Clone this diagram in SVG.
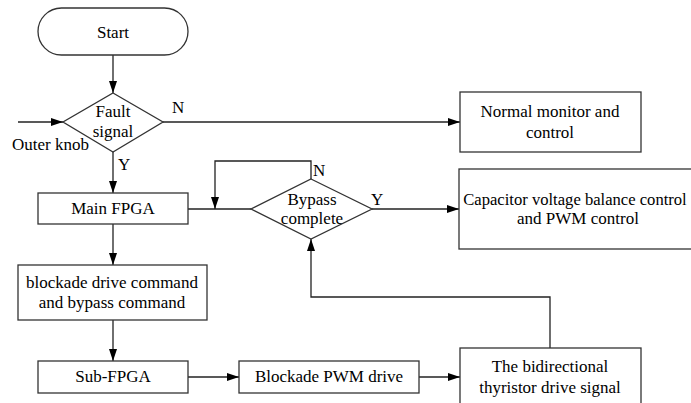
<svg xmlns="http://www.w3.org/2000/svg" width="691" height="403" viewBox="0 0 691 403">
<defs>
<marker id="ah" markerWidth="12" markerHeight="8" refX="12" refY="4" orient="auto" markerUnits="userSpaceOnUse">
<path d="M0,0 L12,4 L0,8 Z" fill="#000"/>
</marker>
<style>
.s{fill:#fff;stroke:#333;stroke-width:1.3}
.t{font-family:"Liberation Serif","Times New Roman",serif;font-size:17px;fill:#000;text-anchor:middle}
.l{font-family:"Liberation Serif","Times New Roman",serif;font-size:17px;fill:#000}
.c{fill:none;stroke:#222;stroke-width:1.3}
</style>
</defs>
<rect width="691" height="403" fill="#fff"/>
<g id="connectors">
<path class="c" d="M113,55 V93" marker-end="url(#ah)"/>
<path class="c" d="M18,122 H63" marker-end="url(#ah)"/>
<path class="c" d="M163,122 H460" marker-end="url(#ah)"/>
<path class="c" d="M113,152 V193" marker-end="url(#ah)"/>
<path class="c" d="M188,209 H251"/>
<path class="c" d="M311,179 V161 H215 V209" marker-end="url(#ah)"/>
<path class="c" d="M372,209 H459" marker-end="url(#ah)"/>
<path class="c" d="M113,224 V265" marker-end="url(#ah)"/>
<path class="c" d="M113,320 V361" marker-end="url(#ah)"/>
<path class="c" d="M188,377 H239" marker-end="url(#ah)"/>
<path class="c" d="M419,377 H460" marker-end="url(#ah)"/>
<path class="c" d="M550,348 V297 H311 V239" marker-end="url(#ah)"/>
<text class="l" x="172" y="113">N</text>
<text class="l" x="118" y="170">Y</text>
<text class="l" x="313" y="176">N</text>
<text class="l" x="371" y="205">Y</text>
<text class="l" x="12" y="150">Outer knob</text>
</g>
<g id="start">
<rect class="s" x="38" y="8" width="150" height="47" rx="23.5" ry="23.5"/>
<text class="t" x="113" y="38">Start</text>
</g>
<g id="fault">
<path class="s" d="M113,93 L163,122 L113,152 L63,122 Z"/>
<text class="t" x="113" y="117">Fault</text>
<text class="t" x="113" y="137">signal</text>
</g>
<g id="normal">
<rect class="s" x="460" y="92" width="181" height="60"/>
<text class="t" x="550" y="117">Normal monitor and</text>
<text class="t" x="550" y="138">control</text>
</g>
<g id="mainfpga">
<rect class="s" x="38" y="193" width="150" height="31"/>
<text class="t" x="113" y="214">Main FPGA</text>
</g>
<g id="bypass">
<path class="s" d="M311,179 L372,209 L311,239 L251,209 Z"/>
<text class="t" x="312" y="205">Bypass</text>
<text class="t" x="312" y="224">complete</text>
</g>
<g id="capacitor">
<rect class="s" x="459" y="169" width="240" height="80"/>
<text class="t" x="575" y="205" style="font-size:16.6px">Capacitor voltage balance control</text>
<text class="t" x="578" y="224">and PWM control</text>
</g>
<g id="blockadecmd">
<rect class="s" x="18" y="265" width="189" height="55"/>
<text class="t" x="112" y="288">blockade drive command</text>
<text class="t" x="112" y="308">and bypass command</text>
</g>
<g id="subfpga">
<rect class="s" x="38" y="361" width="150" height="32"/>
<text class="t" x="113" y="382">Sub-FPGA</text>
</g>
<g id="blockadepwm">
<rect class="s" x="239" y="361" width="180" height="32"/>
<text class="t" x="329" y="382">Blockade PWM drive</text>
</g>
<g id="thyristor">
<rect class="s" x="460" y="348" width="181" height="70"/>
<text class="t" x="550" y="372">The bidirectional</text>
<text class="t" x="550" y="393">thyristor drive signal</text>
</g>
</svg>
